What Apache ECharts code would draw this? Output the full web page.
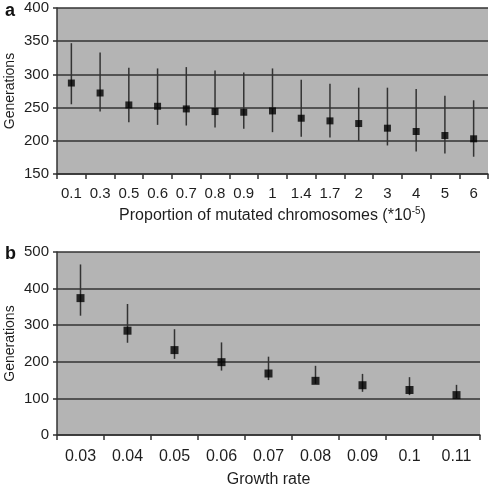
<!DOCTYPE html>
<html><head><meta charset="utf-8">
<script src="https://cdn.jsdelivr.net/npm/echarts@6/dist/echarts.min.js"></script>
<style>html,body{margin:0;padding:0;background:#fff}#c{width:490px;height:490px}</style>
</head><body><div id="c"></div>
<script>
// Panel a
const catsA = ['0.1','0.3','0.5','0.6','0.7','0.8','0.9','1','1.4','1.7','2','3','4','5','6'];
const meanA = [287,272,254,252,248,244,243,245,234,230,226,219,214,208,203];
const highA = [347,333,310,309,311,306,303,309,292,286,280,280,278,268,261];
const lowA  = [255,244,228,224,223,220,218,213,206,205,200,193,184,181,176];
// Panel b
const catsB = ['0.03','0.04','0.05','0.06','0.07','0.08','0.09','0.1','0.11'];
const meanB = [374,285,232,199,168,148,136,123,109];
const highB = [466,358,289,253,214,189,167,158,137];
const lowB  = [326,252,208,176,150,140,118,109,101];

const chart = echarts.init(document.getElementById('c'), null, {renderer:'canvas'});
const FONT = 'Liberation Sans';
const dark = '#333';
const txt = '#1e1e1e';

function errSeries(idx, cats, lo, hi){
  return {
    type:'custom', xAxisIndex:idx, yAxisIndex:idx, z:3,
    data: cats.map((c,i)=>[i, lo[i], hi[i]]),
    renderItem:(params, api)=>{
      const p1 = api.coord([api.value(0), api.value(1)]);
      const p2 = api.coord([api.value(0), api.value(2)]);
      return {type:'line', shape:{x1:p1[0],y1:p1[1],x2:p2[0],y2:p2[1]}, style:{stroke:dark, lineWidth:1.5}};
    }
  };
}
function xAx(idx, cats, name, fs, margin, gap){
  return {
    type:'category', gridIndex:idx, data:cats, boundaryGap:true,
    axisLine:{show:true, lineStyle:{color:dark, width:1.5}},
    axisTick:{show:true, inside:false, length:5, alignWithLabel:false, lineStyle:{color:dark, width:1.5}},
    axisLabel:{color:txt, fontSize:fs, fontFamily:FONT, margin:margin, interval:0},
    name:name, nameLocation:'middle', nameGap:gap, nameMoveOverlap:false,
    nameTextStyle:{color:txt, fontSize:16, fontFamily:FONT,
      rich:{s:{fontSize:10, verticalAlign:'top', padding:[0,0,9,0], fontFamily:FONT, color:txt}}},
    splitLine:{show:false}
  };
}
function yAx(idx, min, max, interval){
  return {
    type:'value', gridIndex:idx, min:min, max:max, interval:interval,
    axisLine:{show:true, lineStyle:{color:dark, width:1.5}},
    axisTick:{show:true, length:4, lineStyle:{color:dark, width:1.5}},
    axisLabel:{color:txt, fontSize:15, fontFamily:FONT, margin:8},
    splitLine:{show:true, lineStyle:{color:dark, width:1.5}},
    name:'Generations', nameLocation:'middle', nameGap:40, nameRotate:90, nameMoveOverlap:false,
    nameTextStyle:{color:txt, fontSize:14, fontFamily:FONT}
  };
}

chart.setOption({
  animation:false,
  backgroundColor:'#fff',
  title:[
    {text:'a', left:0, top:-3, textStyle:{fontSize:18, fontWeight:'bold', fontFamily:FONT, color:'#111'}},
    {text:'b', left:0, top:240, textStyle:{fontSize:18, fontWeight:'bold', fontFamily:FONT, color:'#111'}}
  ],
  grid:[
    {left:57, top:8, width:431, height:166, show:true, backgroundColor:'#b4b4b4', borderWidth:0,
     containLabel:false, outerBoundsMode:'none'},
    {left:57, top:252, width:423, height:183, show:true, backgroundColor:'#b4b4b4', borderWidth:0,
     containLabel:false, outerBoundsMode:'none'}
  ],
  xAxis:[
    xAx(0, catsA, 'Proportion of mutated chromosomes (*10{s|-5})', 15, 12, 32),
    xAx(1, catsB, 'Growth rate', 16, 14, 37)
  ],
  yAxis:[ yAx(0,150,400,50), yAx(1,0,500,100) ],
  series:[
    errSeries(0, catsA, lowA, highA),
    {type:'scatter', xAxisIndex:0, yAxisIndex:0, z:4, symbol:'rect', symbolSize:7,
     itemStyle:{color:'#000'}, data:meanA.map((v,i)=>[i,v])},
    errSeries(1, catsB, lowB, highB),
    {type:'scatter', xAxisIndex:1, yAxisIndex:1, z:4, symbol:'rect', symbolSize:8,
     itemStyle:{color:'#000'}, data:meanB.map((v,i)=>[i,v])}
  ]
});
</script></body></html>
